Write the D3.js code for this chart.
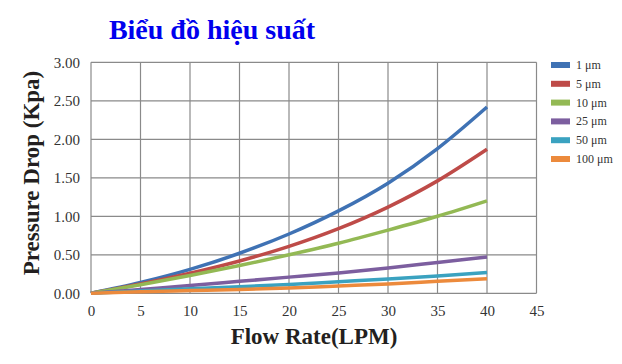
<!DOCTYPE html>
<html>
<head>
<meta charset="utf-8">
<script src="https://cdn.jsdelivr.net/npm/d3@7"></script>
<style>
  body { margin: 0; background: #fff; }
  svg { display: block; }
</style>
</head>
<body>
<div id="chart"></div>
<script>
// flow rate (LPM) samples
const flow = [0, 5, 10, 15, 20, 25, 30, 35, 40];
const seriesNames = ['1 \u03bcm', '5 \u03bcm', '10 \u03bcm', '25 \u03bcm', '50 \u03bcm', '100 \u03bcm'];
const colors = ['#3f72b4', '#be4b48', '#93b954', '#7c5e9f', '#3aa2c0', '#ec8a3c'];
const drop1 = [0, 0.14, 0.31, 0.52, 0.77, 1.07, 1.43, 1.88, 2.42];
const drop5 = [0, 0.12, 0.26, 0.42, 0.61, 0.84, 1.12, 1.46, 1.87];
const drop10 = [0, 0.11, 0.23, 0.36, 0.50, 0.65, 0.82, 1.00, 1.20];
const drop25 = [0, 0.05, 0.10, 0.155, 0.21, 0.265, 0.33, 0.40, 0.47];
const drop50 = [0, 0.03, 0.06, 0.085, 0.115, 0.15, 0.185, 0.225, 0.27];
const drop100 = [0, 0.02, 0.035, 0.05, 0.07, 0.095, 0.12, 0.155, 0.19];
const xTicks = [0, 5, 10, 15, 20, 25, 30, 35, 40, 45];
const yTicks = [0, 0.5, 1, 1.5, 2, 2.5, 3];

const allDrops = [drop1, drop5, drop10, drop25, drop50, drop100];

const W = 622, H = 364;
const plot = { left: 91, right: 536.5, top: 62.3, bottom: 293.3 };
const serif = '"Liberation Serif", "Times New Roman", serif';

const svg = d3.select('#chart').append('svg')
  .attr('width', W)
  .attr('height', H);

const x = d3.scaleLinear().domain([0, 45]).range([plot.left, plot.right]);
const y = d3.scaleLinear().domain([0, 3]).range([plot.bottom, plot.top]);

// grid
svg.append('g')
  .selectAll('line')
  .data(xTicks)
  .join('line')
  .attr('x1', d => x(d)).attr('x2', d => x(d))
  .attr('y1', plot.top).attr('y2', plot.bottom)
  .attr('stroke', '#8a8a8a')
  .attr('stroke-width', 1.2);

svg.append('g')
  .selectAll('line')
  .data(yTicks)
  .join('line')
  .attr('x1', plot.left).attr('x2', plot.right)
  .attr('y1', d => y(d)).attr('y2', d => y(d))
  .attr('stroke', '#8a8a8a')
  .attr('stroke-width', 1.2);

// axes (labels only, lines drawn by the grid)
const xAxis = svg.append('g')
  .attr('transform', `translate(0,${plot.bottom})`)
  .call(d3.axisBottom(x).tickValues(xTicks).tickSize(0).tickPadding(12).tickFormat(d3.format('d')));
xAxis.select('.domain').remove();
xAxis.selectAll('text')
  .attr('font-family', serif)
  .attr('font-size', 15)
  .attr('fill', '#333');

const yAxis = svg.append('g')
  .attr('transform', `translate(${plot.left},0)`)
  .call(d3.axisLeft(y).tickValues(yTicks).tickSize(0).tickPadding(11).tickFormat(d3.format('.2f')));
yAxis.select('.domain').remove();
yAxis.selectAll('text')
  .attr('font-family', serif)
  .attr('font-size', 15)
  .attr('fill', '#333');

// curves
const line = d3.line()
  .x((d, i) => x(flow[i]))
  .y(d => y(d))
  .curve(d3.curveMonotoneX);

svg.append('g')
  .selectAll('path')
  .data(allDrops)
  .join('path')
  .attr('d', line)
  .attr('fill', 'none')
  .attr('stroke', (d, i) => colors[i])
  .attr('stroke-width', 3.5);

// titles
svg.append('text')
  .attr('x', 212)
  .attr('y', 39)
  .attr('text-anchor', 'middle')
  .attr('font-family', serif)
  .attr('font-weight', 'bold')
  .attr('font-size', 28)
  .attr('fill', '#0000ee')
  .text('Biểu đồ hiệu suất');

svg.append('text')
  .attr('x', 314)
  .attr('y', 344)
  .attr('text-anchor', 'middle')
  .attr('font-family', serif)
  .attr('font-weight', 'bold')
  .attr('font-size', 23)
  .attr('fill', '#231f20')
  .text('Flow Rate(LPM)');

svg.append('text')
  .attr('transform', 'translate(39,173) rotate(-90)')
  .attr('text-anchor', 'middle')
  .attr('font-family', serif)
  .attr('font-weight', 'bold')
  .attr('font-size', 23)
  .attr('fill', '#231f20')
  .text('Pressure Drop (Kpa)');

// legend
const legend = svg.append('g')
  .attr('transform', 'translate(551,65)');
const items = legend.selectAll('g')
  .data(seriesNames)
  .join('g')
  .attr('transform', (d, i) => `translate(0,${i * 18.8})`);
items.append('rect')
  .attr('x', 0).attr('y', -3)
  .attr('width', 19).attr('height', 6)
  .attr('fill', (d, i) => colors[i]);
items.append('text')
  .attr('x', 25).attr('y', 4)
  .attr('font-family', serif)
  .attr('font-size', 12)
  .attr('fill', '#333')
  .text(d => d);
</script>
</body>
</html>
